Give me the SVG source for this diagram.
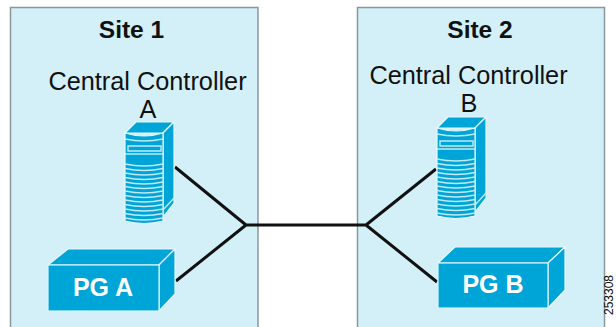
<svg xmlns="http://www.w3.org/2000/svg" width="616" height="327" viewBox="0 0 616 327">
<style>
text{font-family:"Liberation Sans",Arial,sans-serif;fill:#111}
.site{fill:#d3f0f9;stroke:#8a9799;stroke-width:1.5}
.h{font-size:24.500px;font-weight:700;text-anchor:middle}
.l{font-size:25.300px;text-anchor:middle}
.pg{font-size:25px;font-weight:700;fill:#fff;text-anchor:middle}
.b{fill:#00a5d8;stroke:#e6f8fd;stroke-width:1.2;stroke-linejoin:round}
.f{fill:#00a5d8;stroke:#d9f3fb;stroke-width:1.2}
.w{fill:none;stroke:#bfeaf7;stroke-width:1.4}
.c{fill:none;stroke:#111;stroke-width:3}
</style>
<defs>
<g id="srv">
<path class="b" d="M125 133L136 122H174L163 133Z"/>
<path class="b" d="M163 133L174 122V203L163 217Z"/>
<path class="b" d="M125 133Q144 139 163 133V221Q144 226 125 221Z"/>
<path class="w" d="M128 146H161V151H128Z"/>
<path class="w" d="M125 139Q144 143 163 139M125 154H163M125 164Q144 168 163 164M125 168.500Q144 172.500 163 168.500M125 173Q144 177 163 173M125 177.500Q144 181.500 163 177.500M125 182Q144 186 163 182M125 186.500Q144 190.500 163 186.500M125 191Q144 195 163 191M125 195.500Q144 199.500 163 195.500M125 200Q144 204 163 200M125 204.500Q144 208.500 163 204.500M125 209Q144 213 163 209M125 213.500Q144 217.500 163 213.500M125 218Q144 222 163 218M163 210L174 198"/>
</g>
</defs>
<g id="site-1">
<rect class="site" x="10.5" y="7.5" width="247.5" height="325"/>
<text class="h" x="131.500" y="38">Site 1</text>
<text class="l" x="147.500" y="90">Central Controller</text>
<text class="l" x="148" y="118">A</text>
</g>
<g id="site-2">
<rect class="site" x="357.500" y="7.5" width="247" height="325"/>
<text class="h" x="480" y="38">Site 2</text>
<text class="l" x="468.500" y="84">Central Controller</text>
<text class="l" x="469" y="112">B</text>
</g>
<g id="connectors">
<path class="c" d="M175 167L246 225M176 281L246 225M246 225H366M366 225L436 169M366 225L437 282"/>
</g>
<g id="cc-a"><use href="#srv"/></g>
<g id="cc-b"><use href="#srv" x="312" y="-5"/></g>
<g id="pg-a">
<path class="b" d="M48 265L68 249H175L159 265Z"/>
<path class="b" d="M159 265L175 249V294L159 311Z"/>
<rect class="f" x="48" y="265" width="111" height="46"/>
<text class="pg" x="103" y="296">PG A</text>
</g>
<g id="pg-b">
<path class="b" d="M438 263L455 247H565L548 263Z"/>
<path class="b" d="M548 263L565 247V290L548 308Z"/>
<rect class="f" x="438" y="263" width="110" height="45"/>
<text class="pg" x="493" y="293">PG B</text>
</g>
<text id="figure-number" transform="translate(613 275) rotate(-90)" font-size="12" text-anchor="end">253308</text>
</svg>
